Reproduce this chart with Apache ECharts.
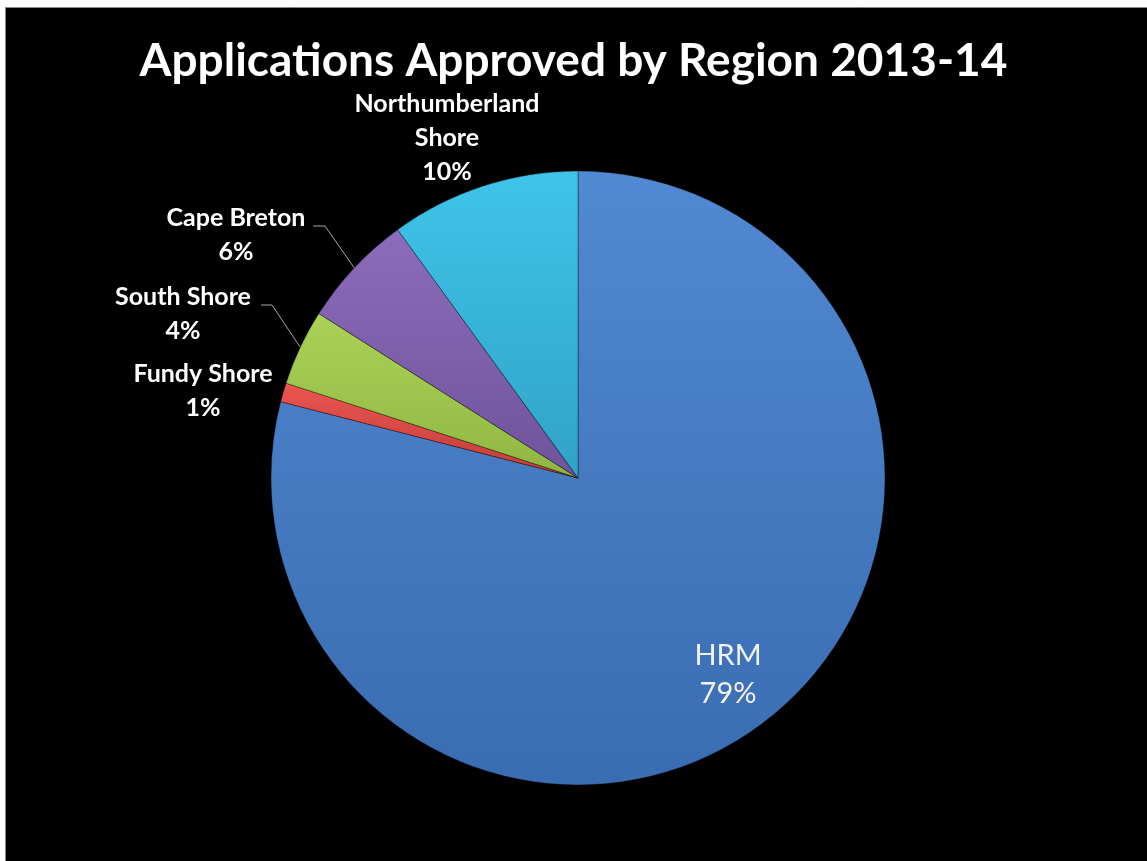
<!DOCTYPE html>
<html>
<head>
<meta charset="utf-8">
<title>Applications Approved by Region 2013-14</title>
<script src="https://cdn.jsdelivr.net/npm/echarts@6/dist/echarts.min.js"></script>
<style>
  html, body { margin: 0; padding: 0; background: #fff; }
  #chart { width: 1147px; height: 861px; }
</style>
</head>
<body>
<div id="chart"></div>
<script>
// Regions, in clockwise order from 12 o'clock
const regions = ['HRM', 'Fundy Shore', 'South Shore', 'Cape Breton', 'Northumberland\nShore'];
// Share of approved applications, percent
const shares = [79, 1, 4, 6, 10];
// Slice colours: [top, bottom] of each slice's vertical gradient
const sliceColors = [
  ['#5189d2', '#3a6cb1'],
  ['#ec5550', '#c23d39'],
  ['#abd257', '#8fb641'],
  ['#8c6cbb', '#6f539b'],
  ['#3fc4ea', '#31a2c6']
];

// Label anchor points (label centres) and leader-line elbows
const labelAnchors = [
  [728, 675],
  [203, 391],
  [183, 314],
  [236, 235],
  [447, 138]
];
const leaderElbows = [null, null, [[272, 305], [261, 305]], [[325, 226], [313, 226]], null];

const chart = echarts.init(document.getElementById('chart'), null, { renderer: 'canvas' });

const data = regions.map((name, i) => ({
  name: name,
  value: shares[i],
  itemStyle: {
    color: {
      type: 'linear', x: 0, y: 0, x2: 0, y2: 1,
      colorStops: [
        { offset: 0, color: sliceColors[i][0] },
        { offset: 1, color: sliceColors[i][1] }
      ]
    }
  },
  label: i === 0
    ? { position: 'inside', fontSize: 29, fontWeight: 'normal', color: '#f2f2f2', lineHeight: 38 }
    : { position: 'outside' },
  labelLine: { show: leaderElbows[i] !== null }
}));

chart.setOption({
  backgroundColor: '#000',
  animation: false,
  title: {
    // zero-width non-joiner keeps the "ti" from fusing into a ligature
    text: 'Applica\u200Ctions Approved by Region 2013-14',
    left: 'center',
    top: 33,
    textStyle: {
      color: '#fff',
      fontFamily: 'Lato',
      fontWeight: 'bold',
      fontSize: 46
    }
  },
  graphic: [
    // white page margin along the top and left edges
    { type: 'rect', shape: { x: 0, y: 0, width: 1147, height: 7 }, style: { fill: '#fff' }, z: 100 },
    { type: 'rect', shape: { x: 0, y: 0, width: 5, height: 861 }, style: { fill: '#fff' }, z: 100 },
    { type: 'line', shape: { x1: 5, y1: 7.5, x2: 1147, y2: 7.5 }, style: { stroke: '#8a8a8a', lineWidth: 1 }, z: 100 },
    { type: 'line', shape: { x1: 5.5, y1: 7, x2: 5.5, y2: 861 }, style: { stroke: '#8a8a8a', lineWidth: 1 }, z: 100 }
  ],
  series: [{
    type: 'pie',
    center: [578, 478],
    radius: [0, 307],
    startAngle: 90,
    clockwise: true,
    avoidLabelOverlap: false,
    data: data,
    itemStyle: {
      borderColor: 'rgba(0,0,0,0.35)',
      borderWidth: 1
    },
    label: {
      color: '#fff',
      fontFamily: 'Lato',
      fontWeight: 'bold',
      fontSize: 25,
      lineHeight: 34,
      align: 'center',
      formatter: p => p.name + '\n' + p.value + '%'
    },
    labelLine: {
      lineStyle: { color: '#a6a6a6', width: 1 },
      smooth: false
    },
    labelLayout: function (params) {
      const idx = params.dataIndex;
      const anchor = labelAnchors[idx];
      const out = { x: anchor[0], y: anchor[1], align: 'center', verticalAlign: 'middle' };
      const elbow = leaderElbows[idx];
      if (elbow && params.labelLinePoints) {
        out.labelLinePoints = [params.labelLinePoints[0], elbow[0], elbow[1]];
      }
      return out;
    }
  }]
});
</script>
</body>
</html>
